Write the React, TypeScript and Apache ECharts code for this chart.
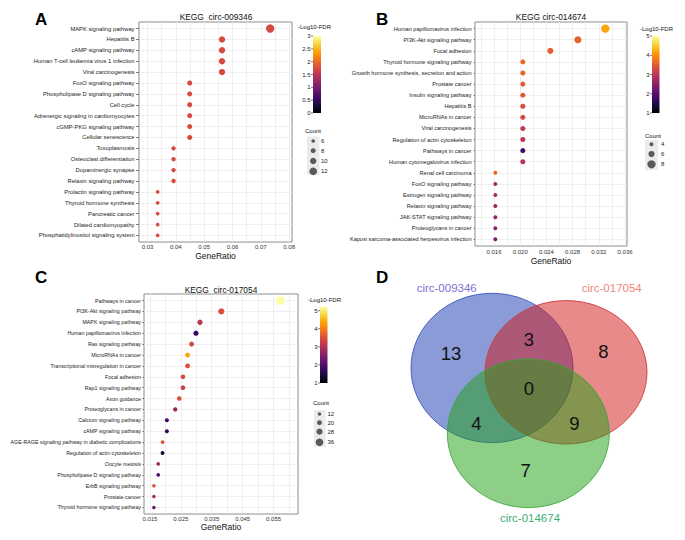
import React, { useEffect, useRef } from 'react';
import * as echarts from 'echarts';

// ---------- Panel A: KEGG circ-009346 ----------
const categoriesA = [
  'MAPK signaling pathway', 'Hepatitis B', 'cAMP signaling pathway',
  'Human T-cell leukemia virus 1 infection', 'Viral carcinogenesis',
  'FoxO signaling pathway', 'Phospholipase D signaling pathway', 'Cell cycle',
  'Adrenergic signaling in cardiomyocytes', 'cGMP-PKG signaling pathway',
  'Cellular senescence', 'Toxoplasmosis', 'Osteoclast differentiation',
  'Dopaminergic synapse', 'Relaxin signaling pathway', 'Prolactin signaling pathway',
  'Thyroid hormone synthesis', 'Pancreatic cancer', 'Dilated cardiomyopathy',
  'Phosphatidylinositol signaling system',
];
const geneRatioA = [0.0733, 0.0563, 0.0563, 0.0563, 0.0563, 0.0449, 0.0449, 0.0449, 0.0449, 0.0449,
  0.0449, 0.0392, 0.0392, 0.0392, 0.0392, 0.0336, 0.0336, 0.0336, 0.0336, 0.0336];
const countA = [13, 10, 10, 10, 10, 8, 8, 8, 8, 8, 8, 7, 7, 7, 7, 6, 6, 6, 6, 6];
const log10FdrA = [1.72, 1.72, 1.72, 1.72, 1.72, 1.72, 1.72, 1.72, 1.72, 1.72,
  1.72, 1.72, 1.72, 1.72, 1.72, 1.72, 1.72, 1.72, 1.72, 1.72];
const xLabelsA = [0.03, 0.04, 0.05, 0.06, 0.07, 0.08];
const xGridA = [0.03, 0.035, 0.04, 0.045, 0.05, 0.055, 0.06, 0.065, 0.07, 0.075, 0.08];
const fdrTicksA = [0, 0.5, 1, 1.5, 2, 2.5, 3];
const countKeysA = [6, 8, 10, 12];

// ---------- Panel B: KEGG circ-014674 ----------
const categoriesB = [
  'Human papillomavirus infection', 'PI3K-Akt signaling pathway', 'Focal adhesion',
  'Thyroid hormone signaling pathway', 'Growth hormone synthesis, secretion and action',
  'Prostate cancer', 'Insulin signaling pathway', 'Hepatitis B', 'MicroRNAs in cancer',
  'Viral carcinogenesis', 'Regulation of actin cytoskeleton', 'Pathways in cancer',
  'Human cytomegalovirus infection', 'Renal cell carcinoma', 'FoxO signaling pathway',
  'Estrogen signaling pathway', 'Relaxin signaling pathway', 'JAK-STAT signaling pathway',
  'Proteoglycans in cancer', 'Kaposi sarcoma-associated herpesvirus infection',
];
const geneRatioB = [0.0330, 0.0288, 0.0246, 0.0204, 0.0204, 0.0204, 0.0204, 0.0204, 0.0204, 0.0204,
  0.0204, 0.0204, 0.0204, 0.0162, 0.0162, 0.0162, 0.0162, 0.0162, 0.0162, 0.0162];
const countB = [8, 7, 6, 5, 5, 5, 5, 5, 5, 5, 5, 5, 5, 4, 4, 4, 4, 4, 4, 4];
const log10FdrB = [4.2, 3.56, 3.52, 3.64, 3.6, 3.48, 3.48, 3.32, 3.28, 3.08,
  3.0, 1.76, 2.96, 3.64, 2.76, 2.76, 2.68, 2.56, 2.48, 2.4];
const xLabelsB = [0.016, 0.02, 0.024, 0.028, 0.032, 0.036];
const xGridB = [0.014, 0.016, 0.018, 0.02, 0.022, 0.024, 0.026, 0.028, 0.03, 0.032, 0.034, 0.036];
const fdrTicksB = [1, 2, 3, 4, 5];
const countKeysB = [4, 6, 8];

// ---------- Panel C: KEGG circ-017054 ----------
const categoriesC = [
  'Pathways in cancer', 'PI3K-Akt signaling pathway', 'MAPK signaling pathway',
  'Human papillomavirus infection', 'Ras signaling pathway', 'MicroRNAs in cancer',
  'Transcriptional misregulation in cancer', 'Focal adhesion', 'Rap1 signaling pathway',
  'Axon guidance', 'Proteoglycans in cancer', 'Calcium signaling pathway',
  'cAMP signaling pathway', 'AGE-RAGE signaling pathway in diabetic complications',
  'Regulation of actin cytoskeleton', 'Oocyte meiosis', 'Phospholipase D signaling pathway',
  'ErbB signaling pathway', 'Prostate cancer', 'Thyroid hormone signaling pathway',
];
const geneRatioC = [0.0572, 0.0381, 0.0312, 0.0299, 0.0285, 0.0272, 0.0272, 0.0257, 0.0257, 0.0245,
  0.0232, 0.0205, 0.0205, 0.0191, 0.0191, 0.0177, 0.0177, 0.0163, 0.0163, 0.0163];
const countC = [42, 28, 23, 22, 21, 20, 20, 19, 19, 18, 17, 15, 15, 14, 14, 13, 13, 12, 12, 12];
const log10FdrC = [5.2, 3.5, 3.1, 1.8, 3.4, 4.38, 3.53, 3.45, 3.28, 3.5,
  2.77, 1.84, 1.72, 3.53, 1.42, 2.9, 1.97, 3.5, 2.86, 2.27];
const xLabelsC = [0.015, 0.025, 0.035, 0.045, 0.055];
const xGridC = [0.015, 0.02, 0.025, 0.03, 0.035, 0.04, 0.045, 0.05, 0.055, 0.06];
const fdrTicksC = [1, 2, 3, 4, 5];
const countKeysC = [12, 20, 28, 36];

// ---------- Panel D: Venn ----------
const vennSets = ['circ-009346', 'circ-017054', 'circ-014674'];
// regions: only 009346, 009346&017054, only 017054, all three, 009346&014674, 017054&014674, only 014674
const vennCounts = [13, 3, 8, 0, 4, 9, 7];

const INFERNO = ['#000004', '#160b39', '#420a68', '#6a176e', '#932667', '#bc3754',
  '#dd513a', '#f37819', '#fca50a', '#f6d746', '#fcffa4'];
const FONT = '"Liberation Sans", Arial, Helvetica, sans-serif';

type Panel = {
  cats: string[]; ratio: number[]; count: number[]; fdr: number[];
  grid: { left: number; top: number; width: number; height: number };
  xMin: number; xMax: number; xLabels: number[]; xGrid: number[]; digits: number;
  yFont: number; tickLen: number; labelMargin: number; xMargin: number; nameGap: number;
  size: (c: number) => number;
  title: string; titleX: number; titleY: number;
  letter: string; letterX: number; letterY: number;
  cbar: { x: number; y: number; w: number; h: number; min: number; max: number; ticks: number[]; titleX: number; titleY: number };
  leg: { titleX: number; titleY: number; bg: number[]; cx: number; ys: number[]; keys: number[]; labelX: number };
};

const panels: Panel[] = [
  {
    cats: categoriesA, ratio: geneRatioA, count: countA, fdr: log10FdrA,
    grid: { left: 139, top: 22, width: 153, height: 220 },
    xMin: 0.027, xMax: 0.081, xLabels: xLabelsA, xGrid: xGridA, digits: 2,
    yFont: 5.8, tickLen: 3, labelMargin: 4.5, xMargin: 2, nameGap: 9,
    size: (c) => 3.7 + (c - 6) * 0.66,
    title: 'KEGG  circ-009346', titleX: 216, titleY: 16.5,
    letter: 'A', letterX: 35, letterY: 19.5,
    cbar: { x: 313, y: 36, w: 8, h: 77, min: 0, max: 3, ticks: fdrTicksA, titleX: 298, titleY: 27 },
    leg: { titleX: 305, titleY: 131, bg: [307, 136.5, 12.5, 38.5], cx: 313.2, ys: [141, 150.7, 161, 171.3], keys: countKeysA, labelX: 321 },
  },
  {
    cats: categoriesB, ratio: geneRatioB, count: countB, fdr: log10FdrB,
    grid: { left: 475, top: 22, width: 152, height: 224 },
    xMin: 0.0131, xMax: 0.0363, xLabels: xLabelsB, xGrid: xGridB, digits: 3,
    yFont: 5.6, tickLen: 1.5, labelMargin: 3.5, xMargin: 2.5, nameGap: 10,
    size: (c) => 4 + (c - 4) * 1.05,
    title: 'KEGG circ-014674', titleX: 551, titleY: 17,
    letter: 'B', letterX: 376, letterY: 19.5,
    cbar: { x: 652, y: 36, w: 7.5, h: 77, min: 1, max: 5, ticks: fdrTicksB, titleX: 640, titleY: 28.5 },
    leg: { titleX: 645, titleY: 135.5, bg: [645, 140, 13, 30], cx: 651.5, ys: [144.3, 154, 164.3], keys: countKeysB, labelX: 661 },
  },
  {
    cats: categoriesC, ratio: geneRatioC, count: countC, fdr: log10FdrC,
    grid: { left: 144, top: 294, width: 154, height: 220 },
    xMin: 0.0131, xMax: 0.0629, xLabels: xLabelsC, xGrid: xGridC, digits: 3,
    yFont: 5.3, tickLen: 1.5, labelMargin: 3, xMargin: 1.5, nameGap: 8,
    size: (c) => 3.5 + (c - 12) * 0.167,
    title: 'KEGG  circ-017054', titleX: 221, titleY: 290,
    letter: 'C', letterX: 35, letterY: 277,
    cbar: { x: 320, y: 306.7, w: 7.5, h: 76.3, min: 1, max: 5.22, ticks: fdrTicksC, titleX: 308, titleY: 300 },
    leg: { titleX: 313, titleY: 403.3, bg: [314, 410, 11.5, 37], cx: 319.5, ys: [414, 422.7, 431.7, 442.3], keys: countKeysC, labelX: 327.5 },
  },
];

function txt(text: string, x: number, y: number, size: number, fill: string, align = 'left', weight = 'normal') {
  return {
    type: 'text', x, y, silent: true,
    style: {
      text, fill, fontSize: size, fontFamily: FONT, fontWeight: weight,
      align, verticalAlign: 'middle', textAlign: align, textVerticalAlign: 'middle',
    },
  };
}

function buildOption() {
  const grids: any[] = [];
  const xAxes: any[] = [];
  const yAxes: any[] = [];
  const series: any[] = [];
  const visualMaps: any[] = [];
  const graphics: any[] = [];

  panels.forEach((p, i) => {
    const idx = p.cats.map((_, k) => k);
    grids.push({
      ...p.grid, containLabel: false, outerBoundsMode: 'none',
      show: true, borderColor: '#8c8c8c', borderWidth: 1, backgroundColor: '#ffffff',
    });
    xAxes.push({
      type: 'value', gridIndex: i, min: p.xMin, max: p.xMax,
      axisLine: { show: false },
      axisTick: { show: false, customValues: p.xGrid },
      axisLabel: {
        customValues: p.xLabels, fontSize: 6, color: '#333', fontFamily: FONT, margin: p.xMargin,
        formatter: (v: number) => v.toFixed(p.digits),
      },
      splitLine: { show: true, lineStyle: { color: '#ebebeb', width: 0.8 } },
      name: 'GeneRatio', nameLocation: 'middle', nameGap: p.nameGap,
      nameTextStyle: { fontSize: 8.5, color: '#111', fontFamily: FONT, verticalAlign: 'top' },
    });
    yAxes.push({
      type: 'value', gridIndex: i, inverse: true, min: -0.6, max: p.cats.length - 0.4,
      axisLine: { show: false },
      axisTick: { show: true, length: p.tickLen, customValues: idx, lineStyle: { color: '#444', width: 0.7 } },
      axisLabel: {
        customValues: idx, fontSize: p.yFont, color: '#222', fontFamily: FONT, margin: p.labelMargin,
        formatter: (v: number) => p.cats[Math.round(v)] ?? '',
      },
      splitLine: { show: true, lineStyle: { color: '#ebebeb', width: 0.8 } },
    });
    series.push({
      type: 'scatter', xAxisIndex: i, yAxisIndex: i, silent: true,
      data: p.cats.map((_, k) => [p.ratio[k], k, p.fdr[k], p.count[k]]),
      symbolSize: (v: number[]) => p.size(v[3]),
      itemStyle: { opacity: 1 },
    });
    visualMaps.push({
      type: 'continuous', show: false, seriesIndex: i, dimension: 2,
      min: p.cbar.min, max: p.cbar.max, inRange: { color: INFERNO },
    });

    // titles and panel letters
    graphics.push(txt(p.title, p.titleX, p.titleY, 8.4, '#111', 'center'));
    graphics.push(txt(p.letter, p.letterX, p.letterY, 17, '#000', 'left', 'bold'));

    // colour bar legend
    const cb = p.cbar;
    graphics.push(txt('-Log10-FDR', cb.titleX, cb.titleY, 6, '#111'));
    graphics.push({
      type: 'rect', silent: true,
      shape: { x: cb.x, y: cb.y, width: cb.w, height: cb.h },
      style: {
        fill: {
          type: 'linear', x: 0, y: 1, x2: 0, y2: 0,
          colorStops: INFERNO.map((c, k) => ({ offset: k / (INFERNO.length - 1), color: c })),
        },
      },
    });
    cb.ticks.forEach((t) => {
      const y = cb.y + cb.h - ((t - cb.min) / (cb.max - cb.min)) * cb.h;
      graphics.push({
        type: 'line', silent: true,
        shape: { x1: cb.x - 2, y1: y, x2: cb.x, y2: y },
        style: { stroke: '#444', lineWidth: 0.7 },
      });
      graphics.push(txt(String(t), cb.x - 2.5, y, 6, '#222', 'right'));
    });

    // size legend
    const lg = p.leg;
    graphics.push(txt('Count', lg.titleX, lg.titleY, 6, '#111'));
    graphics.push({
      type: 'rect', silent: true,
      shape: { x: lg.bg[0], y: lg.bg[1], width: lg.bg[2], height: lg.bg[3] },
      style: { fill: '#ebebeb' },
    });
    lg.keys.forEach((k, j) => {
      graphics.push({
        type: 'circle', silent: true,
        shape: { cx: lg.cx, cy: lg.ys[j], r: p.size(k) / 2 },
        style: { fill: '#5a5a5a' },
      });
      graphics.push(txt(String(k), lg.labelX, lg.ys[j], 6, '#222'));
    });
  });

  // ---- Venn diagram (panel D) ----
  graphics.push(txt('D', 376, 277.5, 17, '#000', 'left', 'bold'));
  const ellipses = [
    { cx: 492, cy: 368, rx: 81, ry: 74.7, fill: 'rgba(21,55,177,0.5)', stroke: 'rgba(60,85,190,0.85)' },
    { cx: 566, cy: 372.3, rx: 81, ry: 71.7, fill: 'rgba(209,21,21,0.5)', stroke: 'rgba(205,55,55,0.85)' },
    { cx: 528.3, cy: 433.3, rx: 81, ry: 74.3, fill: 'rgba(29,159,17,0.5)', stroke: 'rgba(60,165,60,0.85)' },
  ];
  ellipses.forEach((e) => {
    graphics.push({
      type: 'ellipse', silent: true,
      shape: { cx: e.cx, cy: e.cy, rx: e.rx, ry: e.ry },
      style: { fill: e.fill, stroke: e.stroke, lineWidth: 1 },
    });
  });
  const setLabelPos = [[446.7, 288.3], [611.7, 288.3], [530, 518.3]];
  const setColors = ['#7b6fd4', '#f0877d', '#3fae74'];
  vennSets.forEach((s, k) => {
    graphics.push(txt(s, setLabelPos[k][0], setLabelPos[k][1], 11.5, setColors[k], 'center'));
  });
  const regionPos = [[451, 353], [529, 339.5], [603.5, 351], [529, 388.5], [476.5, 423], [574.5, 423.5], [525.7, 470]];
  vennCounts.forEach((n, k) => {
    graphics.push(txt(String(n), regionPos[k][0], regionPos[k][1], 18.5, '#111', 'center'));
  });

  return {
    animation: false,
    backgroundColor: '#ffffff',
    grid: grids,
    xAxis: xAxes,
    yAxis: yAxes,
    visualMap: visualMaps,
    series,
    graphic: graphics,
  };
}

export default function App() {
  const ref = useRef<HTMLDivElement>(null);
  useEffect(() => {
    document.body.style.margin = '0';
    if (!ref.current) return;
    const chart = echarts.init(ref.current, null, { renderer: 'svg' });
    chart.setOption(buildOption() as any);
    return () => chart.dispose();
  }, []);
  return <div ref={ref} style={{ width: 685, height: 540 }} />;
}
